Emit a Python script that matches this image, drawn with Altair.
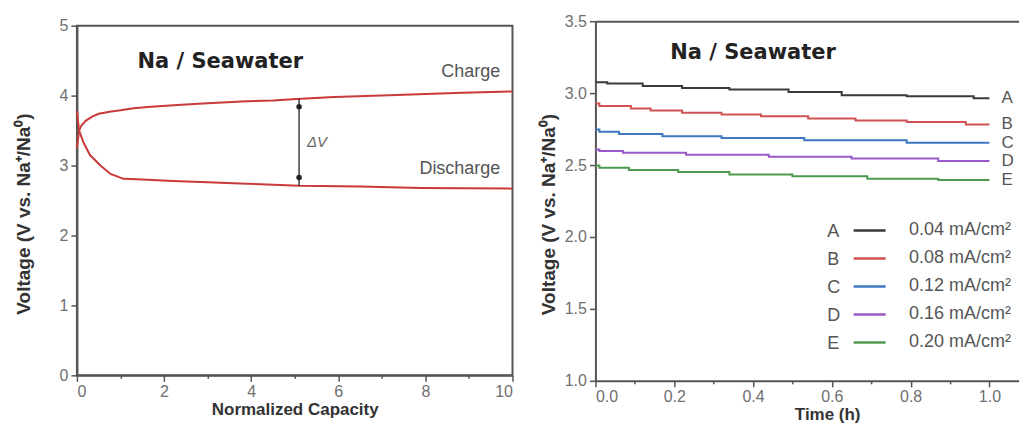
import altair as alt
import pandas as pd

FONT = "Liberation Sans"
AX_GRAY = "#555555"
LBL_GRAY = "#6f6f6f"
TTL = "#333333"

# ---------------- left panel data ----------------
cap_charge = [0, 0.05, 0.1, 0.2, 0.35, 0.5, 0.75, 1.0, 1.3, 1.7, 2.4, 3.0, 3.9, 4.5, 5.05, 5.9, 7.0, 8.85, 10]
v_charge = [3.25, 3.5, 3.57, 3.64, 3.70, 3.74, 3.77, 3.79, 3.82, 3.84, 3.87, 3.89, 3.92, 3.93, 3.95, 3.98, 4.00, 4.04, 4.06]
cap_dis = [0, 0.05, 0.15, 0.3, 0.54, 0.77, 1.07, 1.5, 2.2, 3.0, 3.9, 5.1, 6.5, 7.9, 10]
v_dis = [3.78, 3.5, 3.33, 3.15, 3.0, 2.88, 2.81, 2.80, 2.78, 2.76, 2.74, 2.71, 2.70, 2.68, 2.67]
dv_x = [5.1]
dv_top = [3.95]
dv_bot = [2.71]
dv_dots = [3.84, 2.83]

# ---------------- right panel data ----------------
letters = ["A", "B", "C", "D", "E"]
densities = ["0.04 mA/cm²", "0.08 mA/cm²", "0.12 mA/cm²", "0.16 mA/cm²", "0.20 mA/cm²"]
colors = ["#3a3a3a", "#d05252", "#3f78c0", "#9a5ac6", "#4f9a4f"]
t_A = [0, 0.03, 0.12, 0.22, 0.34, 0.49, 0.625, 0.79, 0.96, 1.0]
v_A = [3.076, 3.067, 3.05, 3.035, 3.025, 3.007, 2.986, 2.978, 2.965, 2.965]
t_B = [0, 0.01, 0.09, 0.14, 0.22, 0.32, 0.42, 0.54, 0.66, 0.79, 0.94, 1.0]
v_B = [2.928, 2.91, 2.893, 2.879, 2.863, 2.851, 2.84, 2.824, 2.81, 2.80, 2.782, 2.782]
t_C = [0, 0.01, 0.06, 0.17, 0.32, 0.53, 0.79, 1.0]
v_C = [2.747, 2.731, 2.715, 2.70, 2.688, 2.673, 2.655, 2.655]
t_D = [0, 0.01, 0.07, 0.23, 0.44, 0.65, 0.87, 1.0]
v_D = [2.608, 2.597, 2.585, 2.571, 2.558, 2.546, 2.528, 2.528]
t_E = [0, 0.01, 0.085, 0.21, 0.34, 0.5, 0.69, 0.87, 1.0]
v_E = [2.497, 2.481, 2.465, 2.451, 2.435, 2.422, 2.405, 2.396, 2.396]

series_t = [t_A, t_B, t_C, t_D, t_E]
series_v = [v_A, v_B, v_C, v_D, v_E]

# ---------------- tables ----------------
left_df = pd.DataFrame(
    [{"cap": c, "v": v, "curve": "Charge"} for c, v in zip(cap_charge, v_charge)]
    + [{"cap": c, "v": v, "curve": "Discharge"} for c, v in zip(cap_dis, v_dis)]
)
rule_df = pd.DataFrame({"x": dv_x, "y1": dv_top, "y2": dv_bot})
dots_df = pd.DataFrame({"x": dv_x * len(dv_dots), "y": dv_dots})

rows = []
for L, d, ts, vs in zip(letters, densities, series_t, series_v):
    for t, v in zip(ts, vs):
        rows.append({"t": t, "v": v, "letter": L, "density": d})
right_df = pd.DataFrame(rows)
end_df = pd.DataFrame({"t": [ts[-1] for ts in series_t], "v": [vs[-1] for vs in series_v], "letter": letters})


def tick_size(test):
    return {"condition": {"test": test, "value": 6}, "value": 3}


axis_common = dict(
    domainColor=AX_GRAY, domainWidth=2, tickColor=AX_GRAY, tickWidth=1.5,
    labelColor=LBL_GRAY, labelFont=FONT, labelFontSize=16, grid=False,
    titleFont=FONT, titleColor=TTL, titleFontWeight="bold",
)

# ---------------- left panel ----------------
lx = alt.X("cap:Q", scale=alt.Scale(domain=[0, 10], nice=False),
           axis=alt.Axis(values=list(range(0, 11)), title="Normalized Capacity",
                         labelExpr="datum.value % 2 === 0 ? format(datum.value, 'd') : ''",
                         tickSize=tick_size("datum.value % 2 === 0"),
                         titleFontSize=17, titlePadding=2, labelPadding=2, **axis_common))
ly = alt.Y("v:Q", scale=alt.Scale(domain=[0, 5], nice=False),
           axis=alt.Axis(values=[i * 0.5 for i in range(11)], title="Voltage (V vs. Na⁺/Na⁰)",
                         labelExpr="datum.value % 1 === 0 ? format(datum.value, 'd') : ''",
                         tickSize=tick_size("datum.value % 1 === 0"),
                         titleFontSize=19, titlePadding=26, labelPadding=3, titleY=188,
                         **axis_common))

curves = alt.Chart(left_df).mark_line(strokeWidth=2, color="#c93a3a").encode(
    x=lx, y=ly, detail="curve:N", order="cap:Q")
rule = alt.Chart(rule_df).mark_rule(color="#222222", strokeWidth=1.3).encode(
    x="x:Q", y="y1:Q", y2="y2:Q")
dots = alt.Chart(dots_df).mark_point(filled=True, color="#222222", size=30, opacity=1).encode(
    x="x:Q", y="y:Q")
dv_text = alt.Chart().mark_text(text="ΔV", fontStyle="italic", font=FONT, fontSize=15,
                                 color="#666666", align="left").encode(
    x=alt.datum(5.28), y=alt.datum(3.33))
title_l = alt.Chart().mark_text(text="Na / Seawater", font="DejaVu Sans", fontSize=21,
                                 fontWeight="bold", color="#222222", align="left").encode(
    x=alt.datum(1.39), y=alt.datum(4.48))
charge_t = alt.Chart().mark_text(text="Charge", font=FONT, fontSize=18, color="#555555",
                                  align="right").encode(x=alt.datum(9.72), y=alt.datum(4.34))
dis_t = alt.Chart().mark_text(text="Discharge", font=FONT, fontSize=18, color="#555555",
                               align="right").encode(x=alt.datum(9.72), y=alt.datum(2.95))

left = alt.layer(curves, rule, dots, dv_text, title_l, charge_t, dis_t).properties(
    width=436, height=350,
    view=alt.ViewBackground(stroke=AX_GRAY, strokeWidth=2),
)

# ---------------- right panel ----------------
rx_scale = alt.Scale(domain=[0, 1.075], nice=False)
ry_scale = alt.Scale(domain=[1.0, 3.5], nice=False)
rx = alt.X("t:Q", scale=rx_scale,
           axis=alt.Axis(values=[i / 10 for i in range(11)], title="Time (h)",
                         labelExpr="round(datum.value * 10) % 2 === 0 ? format(datum.value, '.1f') : ''",
                         tickSize=tick_size("round(datum.value * 10) % 2 === 0"),
                         titleFontSize=17, titlePadding=2, labelPadding=2, titleX=232,
                         **axis_common))
ry = alt.Y("v:Q", scale=ry_scale,
           axis=alt.Axis(values=[1 + i * 0.25 for i in range(11)], title="Voltage (V vs. Na⁺/Na⁰)",
                         labelExpr="round(datum.value * 4) % 2 === 0 ? format(datum.value, '.1f') : ''",
                         tickSize=tick_size("round(datum.value * 4) % 2 === 0"),
                         titleFontSize=19, titlePadding=6, labelPadding=3, titleY=193,
                         **axis_common))

# legends are positioned in the top-level group, whose origin is the left plot's corner
lines = alt.Chart(right_df).mark_line(strokeWidth=2, interpolate="step-after").encode(
    x=rx, y=ry,
    color=alt.Color("density:N", scale=alt.Scale(domain=densities, range=colors),
                    legend=alt.Legend(orient="none", legendX=776, legendY=192, title=None,
                                      symbolType="stroke", symbolSize=1024, symbolStrokeWidth=2.5,
                                      labelFont=FONT, labelFontSize=18, labelColor="#555555",
                                      labelOffset=22, rowPadding=1)),
    opacity=alt.Opacity("letter:O", scale=alt.Scale(domain=letters, range=[1, 1, 1, 1, 1]),
                        legend=alt.Legend(orient="none", legendX=715, legendY=195, title=None,
                                          symbolType="stroke", symbolSize=1024, symbolStrokeWidth=0,
                                          labelFont=FONT, labelFontSize=18, labelColor="#555555",
                                          labelOffset=4, rowPadding=3)),
    detail="letter:N",
)
end_labels = alt.Chart(end_df).mark_text(align="left", dx=12, font=FONT, fontSize=17,
                                         color="#555555").encode(
    x=alt.X("t:Q", scale=rx_scale,
            axis=alt.Axis(orient="top", labels=False, ticks=False, title=None,
                          domainColor=AX_GRAY, domainWidth=2, grid=False)),
    y=alt.Y("v:Q", scale=ry_scale), text="letter:N")
title_r = alt.Chart().mark_text(text="Na / Seawater", font="DejaVu Sans", fontSize=21,
                                 fontWeight="bold", color="#222222", align="left").encode(
    x=alt.XDatum(0.19, axis=None), y=alt.YDatum(3.28))

right = alt.layer(lines, end_labels, title_r).resolve_axis(x="independent").properties(
    width=424, height=360,
    view=alt.ViewBackground(stroke=None),
)

chart = alt.hconcat(left, right, spacing=21, center=True).properties(
    padding={"left": 5, "top": 5, "right": 0, "bottom": 5}
).configure(font=FONT)

chart.save("out.html", embed_options={"renderer": "svg", "actions": False})
